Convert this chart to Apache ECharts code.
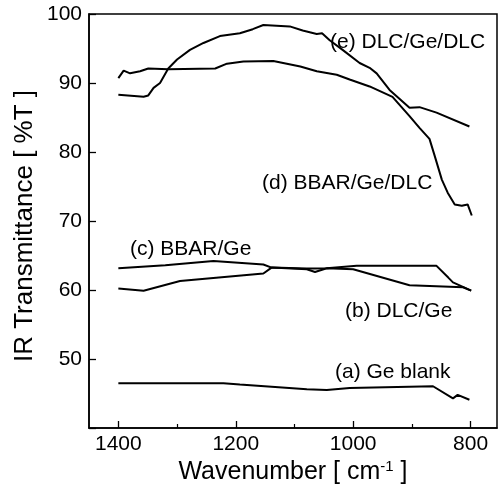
<!DOCTYPE html>
<html>
<head>
<meta charset="utf-8">
<script src="https://cdn.jsdelivr.net/npm/echarts@6/dist/echarts.min.js"></script>
<style>html,body{margin:0;padding:0;background:#fff}#c{width:501px;height:493px}</style>
</head>
<body>
<div id="c"></div>
<script>
// Wavenumber (cm^-1) and transmittance (%T)
var wA = [1400, 1221, 1193, 1079, 1045, 1006, 864, 830, 822, 802];
var tA = [46.5, 46.5, 46.3, 45.6, 45.5, 45.8, 46.05, 44.3, 44.8, 44.1];

var wB = [1400, 1357, 1295, 1153, 1139, 1079, 1065, 1045, 994, 858, 838, 830, 799];
var tB = [60.2, 59.9, 61.3, 62.4, 63.25, 63.1, 63.1, 63.15, 63.5, 63.5, 61.8, 61.1, 59.9];

var wC = [1400, 1320, 1238, 1153, 1139, 1079, 1065, 1045, 1000, 904, 813, 799];
var tC = [63.15, 63.6, 64.2, 63.7, 63.25, 63.0, 62.6, 63.15, 63.0, 60.7, 60.4, 59.9];

var wD = [1400, 1391, 1380, 1363, 1349, 1315, 1235, 1215, 1187, 1136, 1090, 1062, 1028, 1006, 972, 933, 904, 887, 870, 861, 849, 839, 827, 815, 805, 798];
var tD = [90.7, 91.8, 91.4, 91.7, 92.1, 92.0, 92.1, 92.8, 93.1, 93.2, 92.4, 91.7, 91.2, 90.5, 89.5, 88.0, 85.2, 83.5, 81.9, 79.4, 76.0, 74.1, 72.4, 72.2, 72.4, 70.8];

var wE = [1400, 1357, 1349, 1340, 1329, 1315, 1300, 1278, 1255, 1227, 1193, 1171, 1153, 1108, 1086, 1062, 1053, 1040, 1018, 989, 972, 960, 938, 904, 887, 858, 802];
var tE = [88.3, 88.0, 88.2, 89.3, 90.0, 92.1, 93.4, 94.8, 95.8, 96.8, 97.2, 97.8, 98.4, 98.2, 97.6, 97.1, 97.2, 96.2, 94.8, 92.9, 92.2, 91.4, 89.0, 86.4, 86.5, 85.7, 83.7];

var xMajor = [800, 1000, 1200, 1400];
var xMinor = [900, 1100, 1300];
var seriesNames = ['(a) Ge blank', '(b) DLC/Ge', '(c) BBAR/Ge', '(d) BBAR/Ge/DLC', '(e) DLC/Ge/DLC'];

function zip(w, t) { return w.map(function (v, i) { return [v, t[i]]; }); }
var sets = [zip(wA, tA), zip(wB, tB), zip(wC, tC), zip(wD, tD), zip(wE, tE)];

var FONT = '"Liberation Sans", Arial, Helvetica, sans-serif';

var chart = echarts.init(document.getElementById('c'), null, { renderer: 'canvas' });

var labelStyle = function (text, x, y) {
  return { type: 'text', x: x, y: y, style: { text: text, fill: '#000', font: '21px ' + FONT, textAlign: 'left', textVerticalAlign: 'middle' } };
};

chart.setOption({
  animation: false,
  backgroundColor: '#fff',
  grid: { left: 89, right: 4, top: 14, bottom: 65, show: true, borderColor: '#000', borderWidth: 1.5, backgroundColor: 'transparent' },
  xAxis: [{
    type: 'value', inverse: true, min: 755, max: 1450,
    axisLine: { lineStyle: { color: '#000', width: 1.5 } },
    axisTick: { inside: true, length: 7, customValues: xMajor, lineStyle: { color: '#000', width: 1.3 } },
    axisLabel: { customValues: xMajor, color: '#000', fontSize: 21, fontFamily: FONT, margin: 6,
      formatter: function (v) { return String(v); } },
    splitLine: { show: false }
  }, {
    type: 'value', inverse: true, min: 755, max: 1450, position: 'bottom',
    axisLine: { show: false },
    axisTick: { inside: true, length: 4, customValues: xMinor, lineStyle: { color: '#000', width: 1.2 } },
    axisLabel: { show: false },
    splitLine: { show: false }
  }],
  yAxis: {
    type: 'value', min: 40, max: 100, interval: 10,
    axisLine: { show: true, lineStyle: { color: '#000', width: 1.5 } },
    axisTick: { show: true, inside: true, length: 7, lineStyle: { color: '#000', width: 1.3 } },
    axisLabel: { color: '#000', fontSize: 21, fontFamily: FONT, margin: 7,
      formatter: function (v) { return v === 40 ? '' : String(v); } },
    splitLine: { show: false }
  },
  series: sets.map(function (d, i) {
    return { name: seriesNames[i], type: 'line', data: d, xAxisIndex: 0, symbol: 'none', smooth: false,
      lineStyle: { color: '#000', width: 2 }, silent: true };
  }),
  graphic: [
    { type: 'text', x: 25, y: 226, rotation: Math.PI / 2,
      style: { text: 'IR Transmittance [ %T ]', fill: '#000', font: '26px ' + FONT, textAlign: 'center', textVerticalAlign: 'middle' } },
    { type: 'text', x: 293, y: 472,
      style: { text: '{n|Wavenumber [ cm}{s|-1}{n| ]}', textAlign: 'center', textVerticalAlign: 'middle',
        rich: { n: { fontSize: 25, fontFamily: FONT, fill: '#000', color: '#000' }, s: { fontSize: 15, fontFamily: FONT, color: '#000', verticalAlign: 'top' } } } },
    labelStyle('(e) DLC/Ge/DLC', 330, 42),
    labelStyle('(d) BBAR/Ge/DLC', 262, 183),
    labelStyle('(c) BBAR/Ge', 130, 249),
    labelStyle('(b) DLC/Ge', 345, 311),
    labelStyle('(a) Ge blank', 335, 372)
  ]
});
</script>
</body>
</html>
